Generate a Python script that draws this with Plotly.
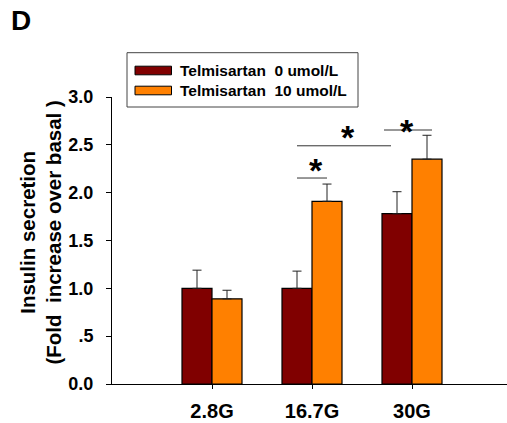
import plotly.graph_objects as go

# ---- data ----
categories = ["2.8G", "16.7G", "30G"]
series_names = ["Telmisartan\u00a0\u00a00 umol/L", "Telmisartan\u00a0\u00a010 umol/L"]
ctrl_values = [1.00, 1.00, 1.78]
ctrl_err = [0.19, 0.18, 0.23]
telmi_values = [0.89, 1.91, 2.35]
telmi_err = [0.09, 0.18, 0.25]
ytick_vals = [0, 0.5, 1.0, 1.5, 2.0, 2.5, 3.0]
ytick_text = ["0.0", ".5", "1.0", "1.5", "2.0", "2.5", "3.0"]
# significance brackets: (x0, x1, y) in category units / data units, star at (x, y)
sig_lines = [(0.85, 1.15, 2.153), (0.85, 1.79, 2.49), (1.72, 2.20, 2.655)]
sig_stars = [(1.04, 2.32), (1.36, 2.665), (1.95, 2.733)]

colors = ["#800000", "#FF8000"]
FONT = "Liberation Sans, Arial, sans-serif"

W, H = 507, 423
ML, MR, MT, MB = 112, 0, 97, 39
PW, PH = W - ML - MR, H - MT - MB


def px(xp):
    return (xp - ML) / PW


def py(yp):
    return (H - MB - yp) / PH


xpos = list(range(len(categories)))

fig = go.Figure()
for vals, errs, col, name in [(ctrl_values, ctrl_err, colors[0], series_names[0]),
                              (telmi_values, telmi_err, colors[1], series_names[1])]:
    fig.add_trace(go.Bar(
        x=xpos, y=vals, name=name, marker=dict(color=col, line=dict(color="black", width=1.2)),
        error_y=dict(type="data", array=errs, arrayminus=[0] * len(errs), symmetric=False,
                     color="#222222", thickness=1, width=4.5),
        showlegend=False,
    ))

shapes = []
for x0, x1, y in sig_lines:
    shapes.append(dict(type="line", xref="x", yref="y", x0=x0, x1=x1, y0=y, y1=y,
                       line=dict(color="#333333", width=1)))

annotations = []
for x, y in sig_stars:
    annotations.append(dict(x=x, y=y, xref="x", yref="y", text="*", showarrow=False,
                            font=dict(family=FONT, size=34, color="black", weight="bold"),
                            xanchor="center", yanchor="middle", yshift=-8))

# custom legend
shapes.append(dict(type="rect", xref="paper", yref="paper", x0=px(127), x1=px(358),
                   y0=py(107), y1=py(52.7), line=dict(color="#444444", width=1), fillcolor="white"))
for i, (col, name) in enumerate(zip(colors, series_names)):
    yc = 70.5 + 20 * i
    shapes.append(dict(type="rect", xref="paper", yref="paper", x0=px(135), x1=px(171.5),
                       y0=py(yc + 4.3), y1=py(yc - 4.3), line=dict(color="black", width=1),
                       fillcolor=col))
    annotations.append(dict(x=px(178), y=py(yc), xref="paper", yref="paper", text=name,
                            showarrow=False, xanchor="left", yanchor="middle",
                            font=dict(family=FONT, size=15.5, color="black", weight="bold")))

# panel letter
annotations.append(dict(x=px(9), y=py(21), xref="paper", yref="paper", text="D", showarrow=False,
                        xanchor="left", yanchor="middle",
                        font=dict(family=FONT, size=28, color="black", weight="bold")))
# y title
annotations.append(dict(x=px(40), y=py(232.5), xref="paper", yref="paper",
                        text="Insulin secretion<br>(Fold\u00a0\u00a0increase over basal )",
                        textangle=-90, showarrow=False, xanchor="center", yanchor="middle",
                        font=dict(family=FONT, size=20.5, color="black", weight="bold")))

fig.update_layout(
    width=W, height=H, margin=dict(l=ML, r=MR, t=MT, b=MB),
    paper_bgcolor="white", plot_bgcolor="white",
    barmode="group", bargap=0.4, bargroupgap=0,
    shapes=shapes, annotations=annotations,
    font=dict(family=FONT, color="black"),
)
fig.update_xaxes(range=[-1, 2.95], tickvals=xpos, ticktext=categories, showline=True,
                 linecolor="black", linewidth=1, ticks="outside", ticklen=4, tickcolor="black",
                 showgrid=False, zeroline=False, ticklabelstandoff=5,
                 tickfont=dict(family=FONT, size=20, color="black", weight="bold"))
fig.update_yaxes(range=[0, 3], tickvals=ytick_vals, ticktext=ytick_text, showline=True,
                 linecolor="black", linewidth=1, ticks="outside", ticklen=5, tickcolor="black",
                 showgrid=False, zeroline=False, ticklabelstandoff=9,
                 tickfont=dict(family=FONT, size=18, color="black", weight="bold"))

fig.write_html("out.html")
